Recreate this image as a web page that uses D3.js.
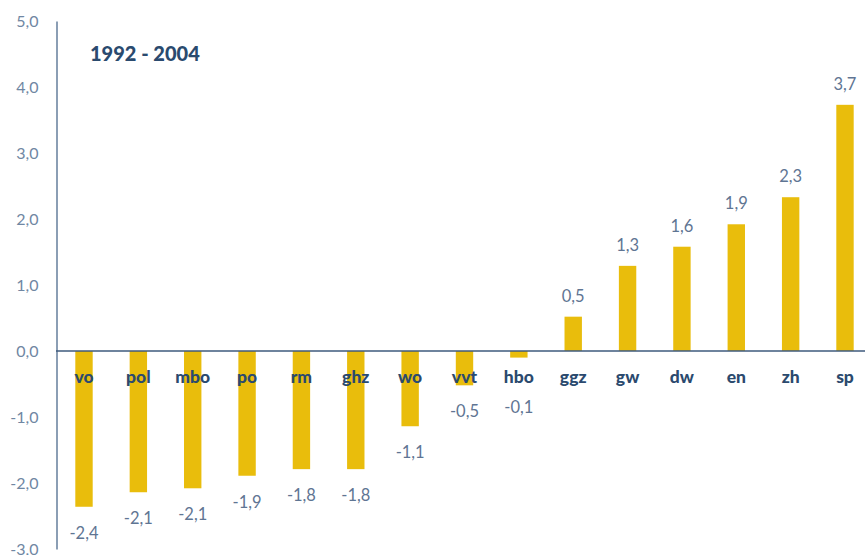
<!DOCTYPE html>
<html><head><meta charset="utf-8">
<script src="https://cdn.jsdelivr.net/npm/d3@7"></script>
<style>body{margin:0;background:#fff}svg{display:block}</style>
</head><body><svg id="c" width="865" height="555"></svg>
<script>
const categories = ["vo","pol","mbo","po","rm","ghz","wo","vvt","hbo","ggz","gw","dw","en","zh","sp"];
const values = [-2.36,-2.14,-2.08,-1.89,-1.79,-1.79,-1.14,-0.52,-0.1,0.52,1.29,1.58,1.92,2.33,3.73];
const yTicks = [-3,-2,-1,0,1,2,3,4,5];
const title = "1992 - 2004";

const svg = d3.select("#c");
const font = "Lato, 'Open Sans', sans-serif";
const x = d3.scalePoint().domain(categories).range([84, 845]);
const bw = x.step() * 0.32;
const y = d3.scaleLinear().domain([-3, 5]).range([549, 21]);
const fmt = v => d3.format(".1f")(v).replace(".", ",").replace("−","-");

// bars
svg.selectAll("rect.bar").data(categories).join("rect")
  .attr("class","bar")
  .attr("x", d => x(d) - bw/2)
  .attr("width", bw)
  .attr("y", (d,i) => Math.min(y(0), y(values[i])))
  .attr("height", (d,i) => Math.abs(y(values[i]) - y(0)))
  .attr("fill", "#E9BD0C");

// y axis
const yAxis = d3.axisLeft(y).tickValues(yTicks).tickSize(0).tickPadding(18).tickFormat(fmt);
const ga = svg.append("g").attr("transform","translate(56.5,0)").call(yAxis);
ga.select(".domain").attr("stroke","#6E86A2").attr("stroke-width",1.6);
ga.selectAll("text").attr("font-family",font).attr("font-size",16).attr("fill","#7087A3").attr("dy","0.35em");

// zero line
svg.append("line").attr("x1",56).attr("x2",865).attr("y1",y(0)).attr("y2",y(0))
  .attr("stroke","#3E5A7C").attr("stroke-width",1.6);

// category labels
svg.selectAll("text.cat").data(categories).join("text")
  .attr("class","cat")
  .attr("x", d => x(d)).attr("y", y(0) + 32)
  .attr("text-anchor","middle").attr("font-family",font).attr("font-weight","900")
  .attr("font-size",17.5).attr("fill","#2B4A6E").text(d => d);

// value labels
svg.selectAll("text.val").data(categories).join("text")
  .attr("class","val")
  .attr("x", d => x(d))
  .attr("y", (d,i) => values[i] >= 0 ? y(values[i]) - 15 : Math.max(y(values[i]) + 32, y(0) + 62))
  .attr("text-anchor","middle").attr("font-family",font)
  .attr("font-size",16.5).attr("fill","#5F7593").text((d,i) => fmt(values[i]));

// title
svg.append("text").attr("x",90).attr("y",61).attr("font-family",font).attr("font-weight","900")
  .attr("font-size",20).attr("fill","#2A4A6E").text(title);
</script></body></html>
